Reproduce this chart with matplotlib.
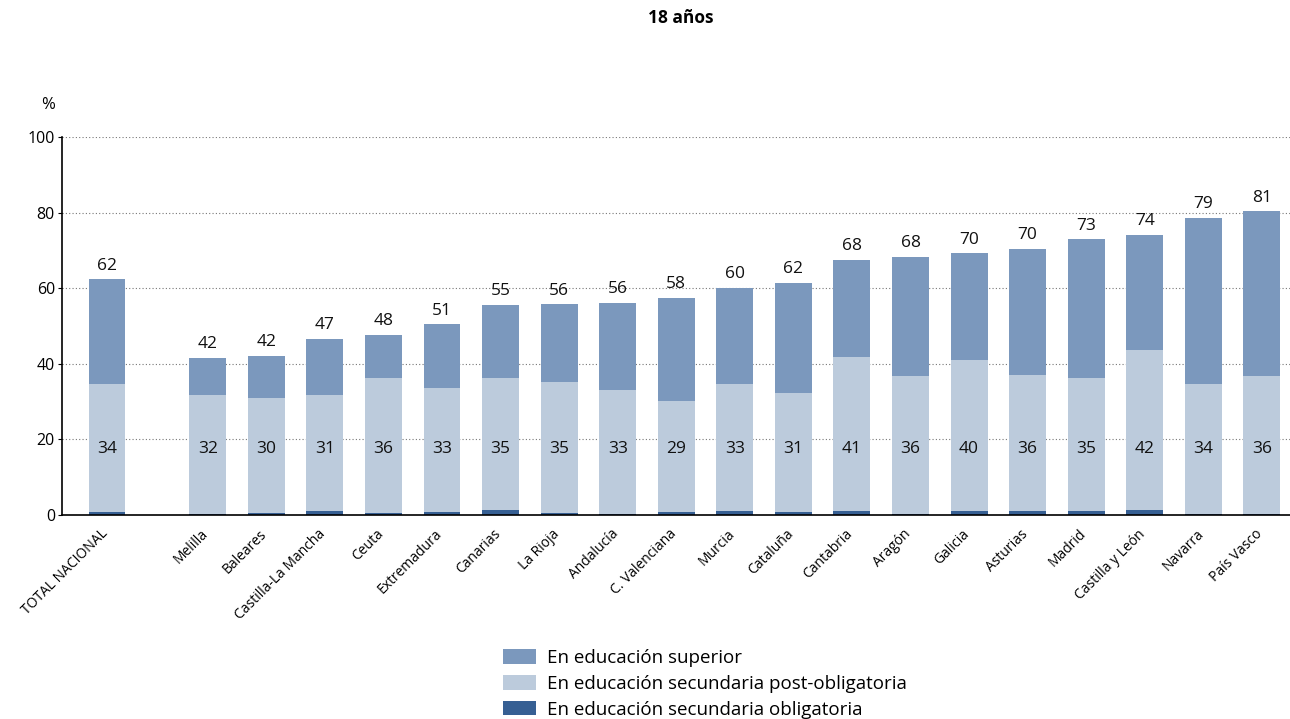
import matplotlib.pyplot as plt
import matplotlib.transforms as mtransforms
import numpy as np

plt.rcParams['font.family'] = ['Open Sans', 'DejaVu Sans']

# datos
regiones = ['TOTAL NACIONAL', 'Melilla', 'Baleares', 'Castilla-La Mancha', 'Ceuta',
            'Extremadura', 'Canarias', 'La Rioja', 'Andalucía', 'C. Valenciana',
            'Murcia', 'Cataluña', 'Cantabria', 'Aragón', 'Galicia', 'Asturias',
            'Madrid', 'Castilla y León', 'Navarra', 'País Vasco']
obligatoria = [0.8, 0.1, 0.4, 0.9, 0.6, 0.8, 1.3, 0.6, 0.3, 0.8,
               1.1, 0.8, 1.0, 0.3, 1.1, 0.9, 1.0, 1.4, 0.2, 0.3]
post_obligatoria = [33.9, 31.6, 30.6, 30.8, 35.6, 32.8, 34.9, 34.6, 32.8, 29.4,
                    33.6, 31.5, 40.8, 36.5, 39.9, 36.1, 35.2, 42.3, 34.5, 36.5]
superior = [27.7, 9.8, 11.1, 14.9, 11.4, 16.9, 19.4, 20.6, 23.0, 27.2,
            25.4, 29.1, 25.7, 31.5, 28.3, 33.4, 36.8, 30.4, 43.9, 43.6]
etiqueta_total = [62, 42, 42, 47, 48, 51, 55, 56, 56, 58,
                  60, 62, 68, 68, 70, 70, 73, 74, 79, 81]
etiqueta_post = [34, 32, 30, 31, 36, 33, 35, 35, 33, 29,
                 33, 31, 41, 36, 40, 36, 35, 42, 34, 36]

c_sup = '#7b98bd'
c_post = '#bccbdc'
c_obl = '#365f93'

fig = plt.figure(figsize=(12.9, 7.19), dpi=100, facecolor='white')
ax = fig.add_axes([0.048, 0.284, 0.952, 0.525])

# posiciones: TOTAL separado del resto
x = np.array([0] + [1.72 + i for i in range(len(regiones) - 1)])
w = 0.63
obl = np.array(obligatoria)
post = np.array(post_obligatoria)
sup = np.array(superior)

ax.bar(x, obl, w, color=c_obl, label='En educación secundaria obligatoria', zorder=2)
ax.bar(x, post, w, bottom=obl, color=c_post, label='En educación secundaria post-obligatoria', zorder=2)
ax.bar(x, sup, w, bottom=obl + post, color=c_sup, label='En educación superior', zorder=2)

for xi, tot, t_lab, p_lab in zip(x, obl + post + sup, etiqueta_total, etiqueta_post):
    ax.text(xi, tot + 1.5, str(t_lab), ha='center', va='bottom', fontsize=12.5, color='#111111')
    ax.text(xi, 17.5, str(p_lab), ha='center', va='center', fontsize=12.5, color='#111111')

ax.set_ylim(0, 100)
ax.set_xlim(-0.77, x[-1] + 0.48)
ax.set_yticks([0, 20, 40, 60, 80, 100])
ax.tick_params(axis='y', labelsize=11.5, length=3, width=0.8, pad=2)
ax.set_xticks(x)
ax.set_xticklabels(regiones, rotation=45, ha='right', rotation_mode='anchor', fontsize=10)
ax.tick_params(axis='x', length=0, pad=7)
offset = mtransforms.ScaledTranslation(-7 / 100, -2 / 100, fig.dpi_scale_trans)
for lab in ax.get_xticklabels():
    lab.set_transform(lab.get_transform() + offset)
ax.grid(axis='y', linestyle=(0, (1, 2)), color='#777777', linewidth=0.8, zorder=0)
for s in ['top', 'right']:
    ax.spines[s].set_visible(False)
ax.spines['left'].set_linewidth(1.2)
ax.spines['bottom'].set_linewidth(1.2)

fig.text(48 / 1290, 1 - 105 / 719, '%', ha='center', va='center', fontsize=12)
fig.text(681 / 1290, 1 - 18 / 719, '18 años', ha='center', va='center', fontsize=12.5, fontweight='bold')

h, l = ax.get_legend_handles_labels()
fig.legend(h[::-1], l[::-1], loc='upper left', bbox_to_anchor=(503 / 1290, 1 - 649 / 719),
           frameon=False, fontsize=13.5, handlelength=1.75, handleheight=0.8,
           labelspacing=0.42, handletextpad=0.6, borderaxespad=0, borderpad=0)

fig.savefig('out.png', dpi=100)
plt.close(fig)
